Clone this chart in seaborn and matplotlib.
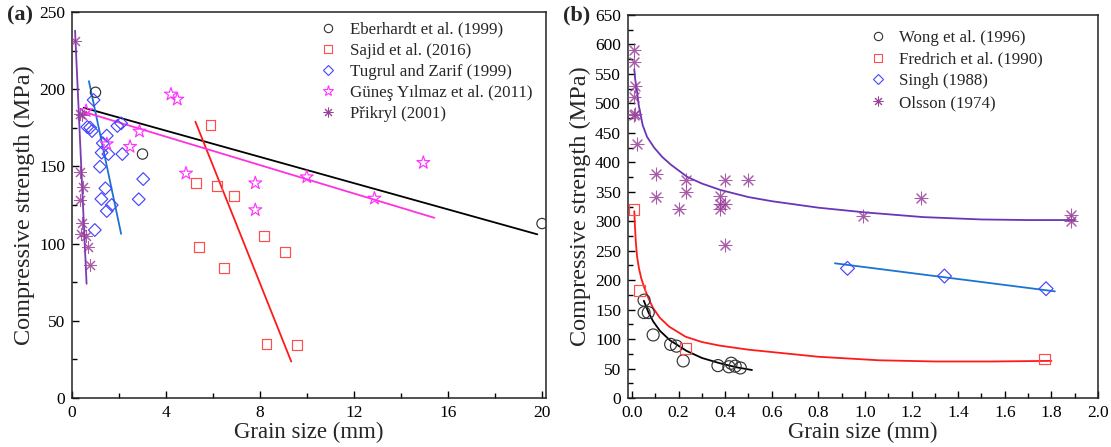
import numpy as np
import pandas as pd
import matplotlib
matplotlib.use("Agg")
import matplotlib.pyplot as plt
from matplotlib.lines import Line2D
from matplotlib.ticker import MultipleLocator
import seaborn as sns

# ---------------- Panel (a) data ----------------
eber_x = [1.0, 3.0, 20.0]
eber_y = [198, 158, 113]
eber_fit_x = [0.5, 19.8]
eber_fit_y = [188, 106]

sajid_x = [5.28, 5.39, 5.89, 6.18, 6.47, 6.88, 8.17, 8.28, 9.08, 9.57]
sajid_y = [139.5, 98, 177, 137.5, 84, 130.6, 104.9, 35, 94.6, 34.5]
sajid_fit_x = [5.25, 9.33]
sajid_fit_y = [179, 23.6]

tug_x = [0.92, 0.65, 0.77, 0.85, 2.09, 1.93, 1.48, 1.31, 1.26, 1.55, 2.14, 1.19,
         3.03, 1.42, 1.25, 2.84, 1.69, 1.48, 0.97]
tug_y = [193, 175.5, 175.1, 172.9, 177.9, 176.2, 169.9, 165, 158.9, 158, 158, 149.8,
         141.8, 135.8, 128.9, 128.7, 125, 121.1, 108.8]
tug_fit_x = [0.72, 2.09]
tug_fit_y = [205.2, 106.3]

gun_x = [4.21, 4.48, 2.87, 1.48, 2.47, 4.85, 7.80, 7.80, 9.99, 12.87, 14.95, 0.6]
gun_y = [196.7, 193.4, 172.7, 164.5, 162.8, 145.5, 139.2, 121.8, 143.1, 129.3, 152.4, 186]
gun_fit_x = [0.51, 15.42]
gun_fit_y = [185.3, 116.7]

prik_x = [0.13, 0.34, 0.42, 0.34, 0.45, 0.34, 0.43, 0.37, 0.60, 0.69, 0.77]
prik_y = [231.4, 184, 183.5, 146.6, 136.9, 128.2, 113.5, 106, 104.9, 98, 86.1]
prik_fit_x = [0.13, 0.62]
prik_fit_y = [237.9, 74]

labels_a = ["Eberhardt et al. (1999)", "Sajid et al. (2016)", "Tugrul and Zarif (1999)",
            "Güneş Yılmaz et al. (2011)", "Přikryl (2001)"]

# ---------------- Panel (b) data ----------------
wong_x = [0.052, 0.052, 0.070, 0.091, 0.166, 0.191, 0.220, 0.369, 0.416, 0.426, 0.443, 0.465]
wong_y = [166, 145, 145, 107, 91, 88, 63, 55, 53, 59, 54, 51]
wong_fit_x = [0.051, 0.07, 0.091, 0.12, 0.163, 0.234, 0.30, 0.377, 0.45, 0.515]
wong_fit_y = [165, 146, 130, 114, 98, 80, 68, 59, 52, 47.5]

fred_x = [0.009, 0.031, 0.231, 1.77]
fred_y = [320, 183, 84, 66]
fred_fit_x = [0.010, 0.013, 0.017, 0.022, 0.03, 0.04, 0.054, 0.07, 0.09, 0.12, 0.16,
              0.23, 0.30, 0.375, 0.5, 0.6, 0.8, 1.06, 1.3, 1.55, 1.8]
fred_fit_y = [317, 290, 262, 240, 220, 203, 186, 170, 153, 136, 121,
              104, 95, 89, 82, 78, 70, 64, 62, 62, 63]

singh_x = [0.925, 1.341, 1.777]
singh_y = [220, 207, 185.5]
singh_fit_x = [0.871, 1.815]
singh_fit_y = [228.6, 181]

ols_x = [0.009, 0.009, 0.013, 0.009, 0.009, 0.012, 0.023, 0.103, 0.103, 0.231, 0.231, 0.202,
         0.398, 0.497, 0.379, 0.379, 0.398, 0.379, 0.398, 1.242, 0.993, 1.886, 1.886]
ols_y = [590, 570, 530, 510, 480, 482, 431, 381, 341, 370, 350, 320,
         370, 370, 342, 330, 330, 320, 260, 340, 309, 311, 300]
ols_fit_x = [0.010, 0.014, 0.02, 0.029, 0.046, 0.065, 0.095, 0.13, 0.167, 0.238, 0.30, 0.38,
             0.5, 0.6, 0.8, 1.0, 1.25, 1.5, 1.7, 1.9]
ols_fit_y = [558, 540, 526, 497, 463, 443, 425, 409, 396, 375, 364, 353,
             341, 334, 323, 315, 307, 303, 302, 302]

labels_b = ["Wong et al. (1996)", "Fredrich et al. (1990)", "Singh (1988)", "Olsson (1974)"]

# ---------------- Style ----------------
sns.set_style("ticks")
plt.rcParams["font.family"] = ["Liberation Serif", "DejaVu Serif"]

C_BLACK = "#333333"
C_RED = "#FF4D4D"
C_BLUE = "#4545FF"
C_MAG = "#FF33FF"
C_PURP = "#9A3F9A"
L_RED = "#FF1A1A"
L_BLUE = "#1C74D0"
L_MAG = "#FF33DD"
L_PURP = "#7A3CB0"
L_OLS = "#6A35B8"
AST = (8, 2, 0)

fig = plt.figure(figsize=(11.11, 4.47), dpi=100)
ax_a = fig.add_axes([72 / 1111, 1 - 398 / 447, (546 - 72) / 1111, (398 - 12) / 447])
ax_b = fig.add_axes([628 / 1111, 1 - 398 / 447, (1098 - 628) / 1111, (398 - 15) / 447])


def scat(ax, x, y, marker, color, s, filled_marker=True, lw=0.85):
    if filled_marker:
        sns.scatterplot(x=x, y=y, ax=ax, marker=marker, s=s, color=color,
                        facecolor="none", edgecolor=color, linewidth=lw, zorder=3)
    else:
        sns.scatterplot(x=x, y=y, ax=ax, marker=marker, s=s, color=color,
                        linewidth=lw, alpha=0.85, zorder=3)


def fitline(ax, x, y, color, lw=1.3):
    sns.lineplot(x=x, y=y, ax=ax, color=color, linewidth=lw, sort=False,
                 estimator=None, zorder=2)


# Panel (a)
fitline(ax_a, eber_fit_x, eber_fit_y, "black")
fitline(ax_a, sajid_fit_x, sajid_fit_y, L_RED)
fitline(ax_a, tug_fit_x, tug_fit_y, L_BLUE)
fitline(ax_a, gun_fit_x, gun_fit_y, L_MAG)
fitline(ax_a, prik_fit_x, prik_fit_y, L_PURP)
scat(ax_a, eber_x, eber_y, "o", C_BLACK, 55)
scat(ax_a, sajid_x, sajid_y, "s", C_RED, 50)
scat(ax_a, tug_x, tug_y, "D", C_BLUE, 42)
scat(ax_a, gun_x, gun_y, "*", C_MAG, 95)
scat(ax_a, prik_x, prik_y, AST, C_PURP, 75, filled_marker=False, lw=0.75)

# Panel (b)
fitline(ax_b, ols_fit_x, ols_fit_y, L_OLS)
fitline(ax_b, fred_fit_x, fred_fit_y, L_RED)
fitline(ax_b, wong_fit_x, wong_fit_y, "black")
fitline(ax_b, singh_fit_x, singh_fit_y, L_BLUE)
scat(ax_b, wong_x, wong_y, "o", C_BLACK, 75)
scat(ax_b, fred_x, fred_y, "s", C_RED, 60)
scat(ax_b, singh_x, singh_y, "D", C_BLUE, 50)
scat(ax_b, ols_x, ols_y, AST, C_PURP, 85, filled_marker=False, lw=0.75)

# Axes formatting
ax_a.set_xlim(0, 20.17)
ax_a.set_ylim(0, 250)
ax_a.xaxis.set_major_locator(MultipleLocator(4))
ax_a.xaxis.set_minor_locator(MultipleLocator(2))
ax_a.yaxis.set_major_locator(MultipleLocator(50))
ax_a.yaxis.set_minor_locator(MultipleLocator(25))

ax_b.set_xlim(-0.017, 2.0)
ax_b.set_ylim(0, 650)
ax_b.xaxis.set_major_locator(MultipleLocator(0.2))
ax_b.xaxis.set_minor_locator(MultipleLocator(0.1))
ax_b.yaxis.set_major_locator(MultipleLocator(50))
ax_b.yaxis.set_minor_locator(MultipleLocator(25))
ax_b.xaxis.set_major_formatter(matplotlib.ticker.FormatStrFormatter("%.1f"))

for ax in (ax_a, ax_b):
    ax.tick_params(which="both", direction="in", top=False, right=False,
                   labelsize=12.5, width=1.0, colors="black", pad=5)
    ax.tick_params(which="major", length=5)
    ax.tick_params(which="minor", length=3.5)
    for sp in ax.spines.values():
        sp.set_visible(True)
        sp.set_linewidth(1.1)
        sp.set_color("#222222")
    ax.set_xlabel("Grain size (mm)", fontsize=16.5, labelpad=1)
    ax.set_ylabel("Compressive strength (MPa)", fontsize=17.5, labelpad=3)

# Legends
def handle(marker, color, filled=True, ms=6):
    if filled:
        return Line2D([], [], linestyle="none", marker=marker, markersize=ms,
                      markerfacecolor="none", markeredgecolor=color, markeredgewidth=0.8)
    return Line2D([], [], linestyle="none", marker=marker, markersize=ms,
                  color=color, markeredgewidth=0.7)

hs_a = [handle("o", C_BLACK), handle("s", C_RED), handle("D", C_BLUE, ms=5.5),
        handle("*", C_MAG, ms=8), handle(AST, C_PURP, filled=False, ms=7)]
ax_a.legend(hs_a, labels_a, loc="upper left", bbox_to_anchor=(0.522, 0.975),
            frameon=False, fontsize=12.2, handlelength=1.0, handletextpad=0.8,
            labelspacing=0.3, borderpad=0, borderaxespad=0)

hs_b = [handle("o", C_BLACK), handle("s", C_RED), handle("D", C_BLUE, ms=5.5),
        handle(AST, C_PURP, filled=False, ms=7)]
ax_b.legend(hs_b, labels_b, loc="upper left", bbox_to_anchor=(0.514, 0.962),
            frameon=False, fontsize=12.2, handlelength=1.0, handletextpad=0.75,
            labelspacing=0.35, borderpad=0, borderaxespad=0)

fig.text(7 / 1111, 1 - 15 / 447, "(a)", fontsize=16, fontweight="bold", va="center", ha="left")
fig.text(563 / 1111, 1 - 15 / 447, "(b)", fontsize=16, fontweight="bold", va="center", ha="left")

fig.savefig("out.png", dpi=100)
